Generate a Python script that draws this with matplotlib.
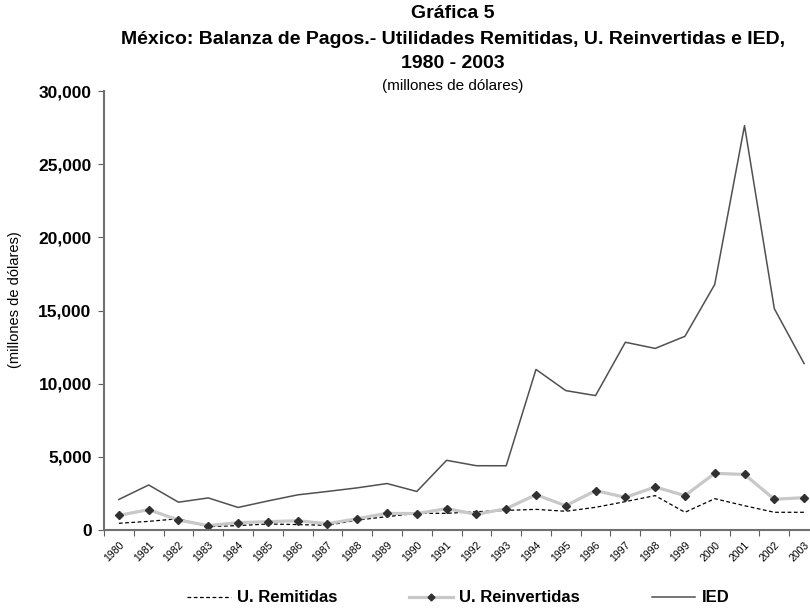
import numpy as np
import matplotlib
matplotlib.use("Agg")
from matplotlib import pyplot as plt
from matplotlib.ticker import FuncFormatter

plt.rcParams['font.family'] = ['Liberation Sans', 'DejaVu Sans']

years = [str(y) for y in range(1980, 2004)]

# millones de dolares
remitidas = [460, 590, 770, 230, 300, 410, 370, 320, 680, 910,
             1140, 1140, 1250, 1340, 1410, 1280, 1550, 1940, 2350, 1210,
             2140, 1660, 1210, 1210]
reinvertidas = [1000, 1390, 680, 300, 500, 570, 630, 430, 770, 1140,
                1120, 1460, 1070, 1460, 2410, 1660, 2690, 2230, 2940, 2350,
                3870, 3800, 2100, 2210]
ied = [2090, 3076, 1900, 2192, 1542, 1984, 2401, 2635, 2880, 3176,
       2633, 4762, 4393, 4389, 10973, 9526, 9185, 12830, 12409, 13237,
       16781, 27635, 15129, 11373]

x = np.arange(len(years))

fig = plt.figure(figsize=(8.1, 6.14), dpi=100)
ax = fig.add_axes([104/810, 1 - 530/614, 715/810, 439/614])

ax.plot(x, remitidas, color='black', lw=0.9, ls=(0, (3, 2)), label='U. Remitidas')
ax.plot(x, reinvertidas, color='#c8c8c8', lw=2.3, marker='D', ms=4.5,
        mfc='#303030', mec='#303030', label='U. Reinvertidas')
ax.plot(x, ied, color='#505050', lw=1.1, label='IED')

ax.set_xlim(-0.5, len(years) - 0.5)
ax.set_ylim(0, 30000)
ax.set_yticks(range(0, 30001, 5000))
ax.yaxis.set_major_formatter(FuncFormatter(lambda v, p: f'{int(v):,}'))
for lab in ax.get_yticklabels():
    lab.set_fontweight('bold')
    lab.set_fontsize(12.5)

ax.set_xticks(np.arange(-0.5, len(years), 1.0))
ax.set_xticklabels([])
ax.set_xticks(x, minor=True)
ax.set_xticklabels(years, minor=True, rotation=45, ha='right', va='top',
                   fontsize=7.5, rotation_mode='anchor')
ax.tick_params(axis='x', which='minor', length=0, pad=7)
ax.tick_params(axis='x', which='major', length=4, color='#606060', direction='out')
ax.tick_params(axis='y', length=4, color='#606060', direction='out', pad=5)

for s in ['top', 'right']:
    ax.spines[s].set_visible(False)
for s in ['left', 'bottom']:
    ax.spines[s].set_color('#707070')
    ax.spines[s].set_linewidth(1.5)

# y axis caption
fig.text(15/810, 1 - 300/614, '(millones de dólares)', rotation=90,
         ha='center', va='center', fontsize=10.5)

cx = 453/810
fig.text(cx, 1 - 13/614, 'Gráfica 5', ha='center', va='center',
         fontsize=14, fontweight='bold')
fig.text(cx, 1 - 40/614,
         'México: Balanza de Pagos.- Utilidades Remitidas, U. Reinvertidas e IED,',
         ha='center', va='center', fontsize=14, fontweight='bold')
fig.text(cx, 1 - 64/614, '1980 - 2003', ha='center', va='center',
         fontsize=14, fontweight='bold')
fig.text(cx, 1 - 86/614, '(millones de dólares)', ha='center', va='center',
         fontsize=11)

leg = fig.legend(loc='center', bbox_to_anchor=(0.566, 1 - 598/614), ncol=3,
                 frameon=False, handlelength=2.6, handletextpad=0.4,
                 columnspacing=4.3, prop={'weight': 'bold', 'size': 12})
for h in leg.legend_handles:
    h.set_markersize(3.5)

fig.savefig('out.png', dpi=100)
